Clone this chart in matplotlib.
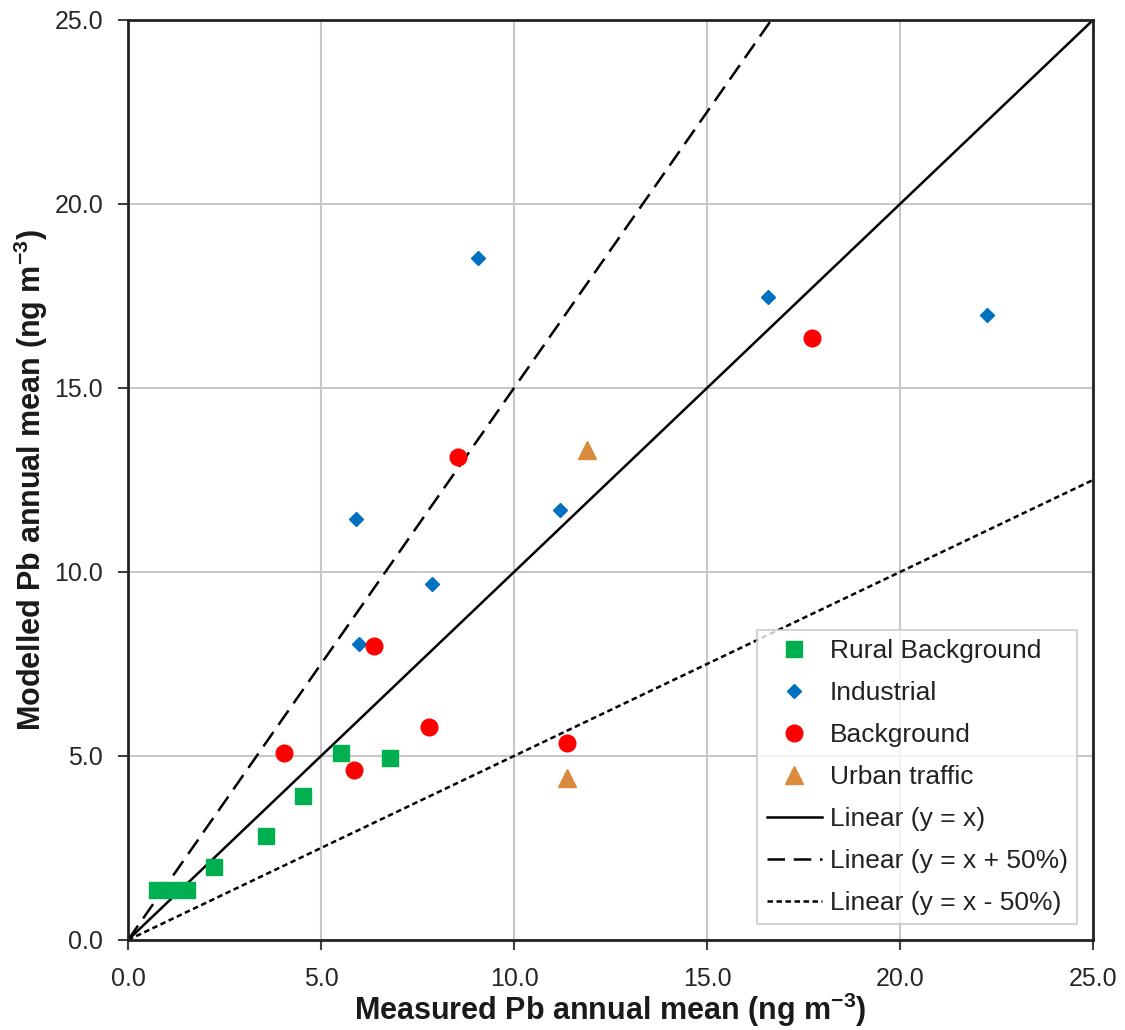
import matplotlib
matplotlib.use("Agg")
import matplotlib.pyplot as plt
import numpy as np

plt.rcParams['font.family'] = ['Liberation Sans', 'DejaVu Sans']
plt.rcParams['mathtext.fontset'] = 'custom'
plt.rcParams['mathtext.rm'] = 'Liberation Sans'
plt.rcParams['mathtext.bf'] = 'Liberation Sans:bold'

# Data
rural_x = [0.74, 1.13, 1.52, 2.23, 3.58, 4.54, 5.52, 6.79]
rural_y = [1.36, 1.36, 1.36, 1.99, 2.83, 3.90, 5.07, 4.94]

industrial_x = [9.07, 16.59, 22.25, 11.19, 5.91, 7.87, 5.99]
industrial_y = [18.53, 17.48, 16.97, 11.68, 11.44, 9.67, 8.03]

background_x = [4.04, 5.86, 6.36, 7.81, 8.56, 11.36, 17.71]
background_y = [5.08, 4.62, 7.99, 5.78, 13.13, 5.36, 16.35]

urban_x = [11.90, 11.36]
urban_y = [13.32, 4.39]

line_x = [0.0, 25.0]
factors = [1.0, 1.5, 0.5]
line_labels = ['Linear (y = x)', 'Linear (y = x + 50%)', 'Linear (y = x - 50%)']

ticks = [0, 5, 10, 15, 20, 25]
tick_labels = ['0.0', '5.0', '10.0', '15.0', '20.0', '25.0']

fig = plt.figure(figsize=(11.25, 10.3), dpi=100)
ax = fig.add_axes([0.1138, 0.0874, 0.9716 - 0.1138, 0.9806 - 0.0874])

ax.grid(True, color='#c8c8c8', linewidth=1.5, zorder=0)
ax.set_axisbelow(True)

ax.plot(rural_x, rural_y, linestyle='none', marker='s', markersize=11.5,
        color='#00B050', label='Rural Background', zorder=3)
ax.plot(industrial_x, industrial_y, linestyle='none', marker='D', markersize=7.5,
        color='#0070C0', label='Industrial', zorder=3)
ax.plot(background_x, background_y, linestyle='none', marker='o', markersize=12,
        color='#FF0000', label='Background', zorder=3)
ax.plot(urban_x, urban_y, linestyle='none', marker='^', markersize=13,
        color='#DA8A3C', label='Urban traffic', zorder=3)

styles = ['-', (0, (7, 3.5)), (0, (2.2, 1.4))]
for f, ls, lab in zip(factors, styles, line_labels):
    ax.plot(line_x, [v * f for v in line_x], color='black', linewidth=1.8,
            linestyle=ls, label=lab, zorder=2)

ax.set_xlim(0, 25)
ax.set_ylim(0, 25)
ax.set_xticks(ticks)
ax.set_xticklabels(tick_labels)
ax.set_yticks(ticks)
ax.set_yticklabels(tick_labels)
ax.tick_params(axis='both', labelsize=18, length=7, width=1.5, direction='out',
               color='#404040', labelcolor='#262626')
ax.tick_params(axis='x', pad=12.5)
ax.tick_params(axis='y', pad=11)
for s in ax.spines.values():
    s.set_color('#222222')
    s.set_linewidth(2)

ax.set_xlabel(r'Measured Pb annual mean (ng m$\mathbf{^{-3}}$)', fontsize=22,
              fontweight='bold', labelpad=0, color='#1a1a1a')
ax.set_ylabel(r'Modelled Pb annual mean (ng m$\mathbf{^{-3}}$)', fontsize=22,
              fontweight='bold', labelpad=3, color='#1a1a1a')

leg = ax.legend(loc='lower right', bbox_to_anchor=(1.0, 0.0), fontsize=19,
                frameon=True, fancybox=False, edgecolor='#c8c8c8',
                handlelength=2.1, handletextpad=0.3, labelspacing=0.68,
                borderpad=0.35, borderaxespad=0.6, markerscale=1.0)
leg.get_frame().set_linewidth(1.5)
for t in leg.get_texts():
    t.set_color('#222222')

fig.savefig('out.png', dpi=100)
